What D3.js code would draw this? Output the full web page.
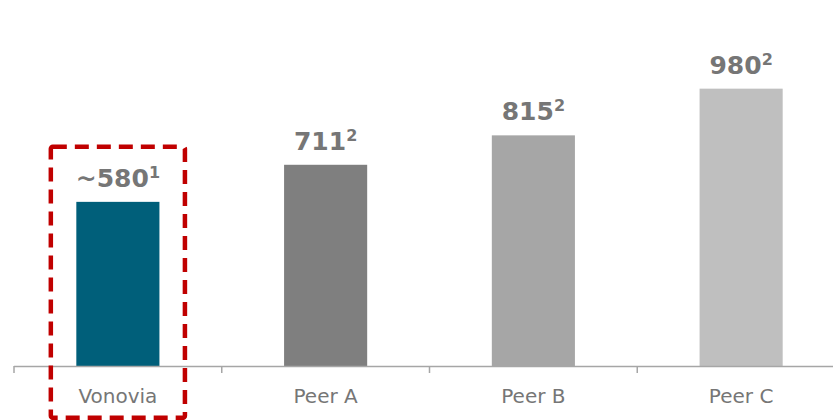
<!DOCTYPE html>
<html>
<head>
<meta charset="utf-8">
<script src="https://cdn.jsdelivr.net/npm/d3@7"></script>
<style>
  body { margin: 0; background: #fff; }
  text { font-family: Verdana, "DejaVu Sans", sans-serif; }
</style>
</head>
<body>
<div class="container"></div>
<script>
const width = 833;
const height = 420;

const categories = ["Vonovia", "Peer A", "Peer B", "Peer C"];
const values = [580, 711, 815, 980];
const prefixes = ["~", "", "", ""];
const footnotes = ["1", "2", "2", "2"];
const colors = ["#005f7a", "#7f7f7f", "#a6a6a6", "#bfbfbf"];

const baseY = 366;

const svg = d3.select(".container")
    .append("svg")
    .attr("width", width)
    .attr("height", height);

const x = d3.scaleBand()
    .domain(categories)
    .range([14, 845])
    .paddingInner(0.6)
    .paddingOuter(0.3);

const y = d3.scaleLinear()
    .domain([0, 1000])
    .range([baseY, 83]);

// bars
svg.selectAll("rect.bar")
    .data(categories)
    .enter()
    .append("rect")
    .attr("class", "bar")
    .attr("x", d => x(d))
    .attr("y", (d, i) => y(values[i]))
    .attr("width", x.bandwidth())
    .attr("height", (d, i) => baseY - y(values[i]))
    .attr("fill", (d, i) => colors[i]);

// axis line + ticks at band boundaries
svg.append("line")
    .attr("x1", 14).attr("x2", width)
    .attr("y1", baseY + 0.5).attr("y2", baseY + 0.5)
    .attr("stroke", "#a6a6a6")
    .attr("stroke-width", 1.5);

const step = x.step();
const ticks = d3.range(categories.length + 1).map(i => x(categories[0]) - x.paddingOuter() * step + i * step);
svg.selectAll("line.tick")
    .data(ticks)
    .enter()
    .append("line")
    .attr("class", "tick")
    .attr("x1", d => d).attr("x2", d => d)
    .attr("y1", baseY).attr("y2", baseY + 7)
    .attr("stroke", "#a6a6a6")
    .attr("stroke-width", 1.5);

// category labels
svg.selectAll("text.cat")
    .data(categories)
    .enter()
    .append("text")
    .attr("class", "cat")
    .attr("x", d => x(d) + x.bandwidth() / 2)
    .attr("y", 403)
    .attr("text-anchor", "middle")
    .attr("font-size", 20)
    .attr("fill", "#767676")
    .text(d => d);

// value labels with footnote superscripts
const vl = svg.selectAll("text.val")
    .data(categories)
    .enter()
    .append("text")
    .attr("class", "val")
    .attr("x", d => x(d) + x.bandwidth() / 2)
    .attr("y", (d, i) => y(values[i]) - 15)
    .attr("text-anchor", "middle")
    .attr("font-size", 25)
    .attr("font-weight", "bold")
    .attr("fill", "#767676");

vl.append("tspan").text((d, i) => prefixes[i] + values[i]);
vl.append("tspan")
    .attr("font-size", 16)
    .attr("dy", -9)
    .text((d, i) => footnotes[i]);

// red dashed highlight around Vonovia
const hx = x("Vonovia");
svg.append("rect")
    .attr("x", hx - 25.5)
    .attr("y", y(580) - 55)
    .attr("width", x.bandwidth() + 51)
    .attr("height", 271)
    .attr("rx", 2)
    .attr("fill", "none")
    .attr("stroke", "#c00000")
    .attr("stroke-width", 4.5)
    .attr("stroke-dasharray", "14,8");
</script>
</body>
</html>
